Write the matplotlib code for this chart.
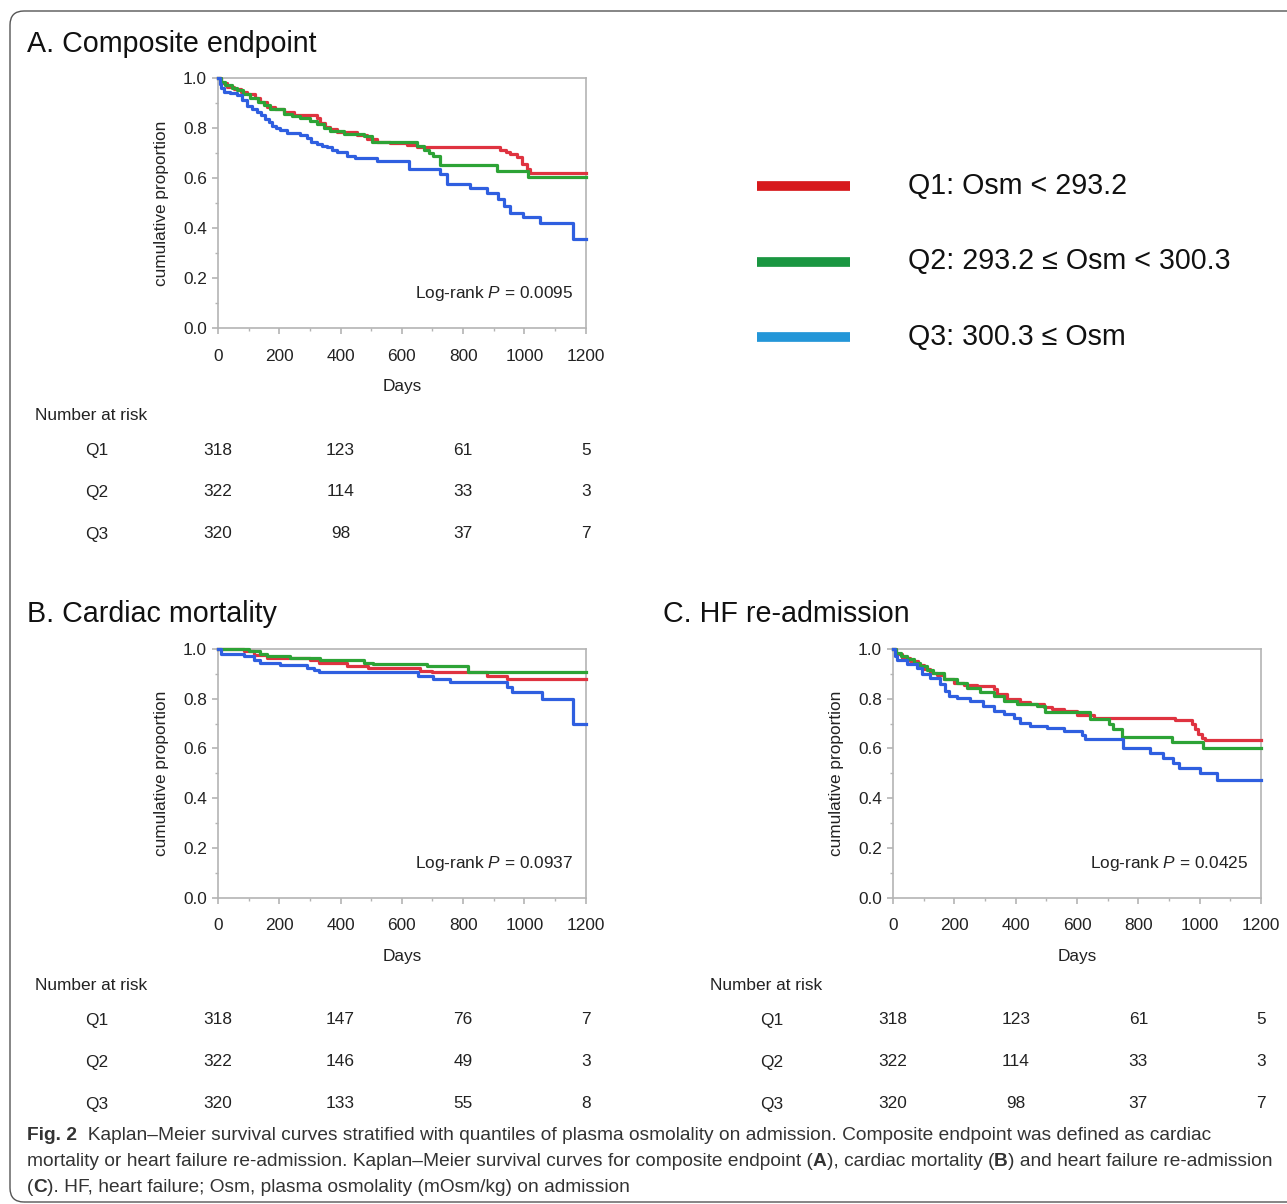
import matplotlib
matplotlib.use('Agg')
import matplotlib.pyplot as plt
from matplotlib.lines import Line2D
from matplotlib.patches import FancyBboxPatch
from matplotlib.transforms import IdentityTransform, blended_transform_factory

plt.rcParams['font.family'] = ['Liberation Sans', 'DejaVu Sans']
plt.rcParams['mathtext.fontset'] = 'custom'
plt.rcParams['mathtext.it'] = 'Liberation Sans:italic'
plt.rcParams['mathtext.rm'] = 'Liberation Sans'

W, H = 1287, 1204

# ---- curve data (days, cumulative proportion) ----
# A. composite endpoint
a_q1_t = [0, 10, 30, 51, 75, 95, 120, 138, 160, 185, 214, 247, 323, 334, 350, 366, 388, 453, 486, 518,
          562, 616, 649, 921, 940, 953, 975, 991, 1008, 1018, 1200]
a_q1_s = [1.0, 0.98, 0.965, 0.955, 0.945, 0.935, 0.92, 0.905, 0.885, 0.875, 0.862, 0.85, 0.84, 0.818, 0.805,
          0.796, 0.783, 0.772, 0.757, 0.745, 0.738, 0.73, 0.724, 0.712, 0.705, 0.697, 0.682, 0.657, 0.636,
          0.621, 0.621]
a_q2_t = [0, 10, 24, 45, 62, 80, 105, 130, 149, 171, 214, 240, 268, 300, 323, 345, 366, 410, 475, 502,
          649, 671, 690, 703, 725, 910, 1013, 1200]
a_q2_s = [1.0, 0.985, 0.97, 0.96, 0.95, 0.935, 0.92, 0.905, 0.89, 0.876, 0.856, 0.848, 0.839, 0.828, 0.816,
          0.80, 0.789, 0.776, 0.766, 0.742, 0.729, 0.713, 0.70, 0.689, 0.651, 0.628, 0.605, 0.605]
a_q3_t = [0, 5, 10, 18, 40, 62, 78, 95, 110, 127, 140, 154, 165, 176, 190, 203, 225, 268, 290, 305, 323,
          340, 355, 372, 388, 421, 448, 518, 622, 725, 747, 823, 877, 915, 932, 953, 997, 1051, 1160, 1200]
a_q3_s = [1.0, 0.975, 0.96, 0.944, 0.94, 0.933, 0.91, 0.886, 0.875, 0.863, 0.85, 0.836, 0.822, 0.809, 0.80,
          0.792, 0.78, 0.77, 0.758, 0.745, 0.736, 0.728, 0.722, 0.71, 0.702, 0.689, 0.678, 0.668, 0.635,
          0.615, 0.574, 0.561, 0.538, 0.517, 0.487, 0.46, 0.444, 0.42, 0.357, 0.357]

# B. cardiac mortality
b_q1_t = [0, 84, 116, 160, 301, 328, 421, 491, 660, 698, 877, 942, 1200]
b_q1_s = [1.0, 0.99, 0.975, 0.962, 0.955, 0.942, 0.933, 0.923, 0.913, 0.906, 0.892, 0.879, 0.879]
b_q2_t = [0, 100, 138, 160, 236, 334, 475, 507, 681, 817, 1200]
b_q2_s = [1.0, 0.99, 0.98, 0.973, 0.965, 0.956, 0.945, 0.938, 0.93, 0.908, 0.908]
b_q3_t = [0, 10, 84, 116, 138, 203, 290, 312, 328, 654, 703, 758, 942, 959, 1057, 1160, 1200]
b_q3_s = [1.0, 0.98, 0.97, 0.957, 0.942, 0.935, 0.925, 0.915, 0.908, 0.892, 0.879, 0.869, 0.849, 0.825,
          0.80, 0.697, 0.697]

# C. HF re-admission
c_q1_t = [0, 10, 30, 56, 80, 100, 120, 143, 165, 200, 230, 274, 328, 339, 371, 415, 447, 491, 518, 556,
          599, 654, 920, 974, 985, 996, 1007, 1018, 1200]
c_q1_s = [1.0, 0.98, 0.965, 0.95, 0.935, 0.92, 0.905, 0.896, 0.879, 0.865, 0.857, 0.85, 0.838, 0.818, 0.80,
          0.787, 0.778, 0.765, 0.758, 0.751, 0.733, 0.724, 0.715, 0.70, 0.677, 0.657, 0.643, 0.634, 0.634]
c_q2_t = [0, 10, 25, 46, 70, 89, 110, 132, 165, 209, 241, 285, 328, 361, 404, 469, 496, 643, 703, 719,
          746, 909, 1012, 1200]
c_q2_s = [1.0, 0.985, 0.97, 0.96, 0.945, 0.93, 0.915, 0.905, 0.879, 0.863, 0.845, 0.825, 0.812, 0.791,
          0.78, 0.771, 0.747, 0.72, 0.697, 0.677, 0.647, 0.626, 0.60, 0.60]
c_q3_t = [0, 5, 13, 46, 78, 94, 122, 154, 170, 181, 209, 252, 295, 328, 361, 393, 415, 447, 502, 556,
          616, 627, 751, 838, 882, 914, 931, 1001, 1055, 1200]
c_q3_s = [1.0, 0.97, 0.955, 0.94, 0.925, 0.899, 0.885, 0.861, 0.832, 0.812, 0.802, 0.79, 0.771, 0.751,
          0.738, 0.724, 0.704, 0.69, 0.681, 0.67, 0.655, 0.637, 0.603, 0.583, 0.563, 0.542, 0.522, 0.502,
          0.472, 0.472]

groups = ['Q1', 'Q2', 'Q3']
risk_days = [0, 400, 800, 1200]
a_risk = [[318, 123, 61, 5], [322, 114, 33, 3], [320, 98, 37, 7]]
b_risk = [[318, 147, 76, 7], [322, 146, 49, 3], [320, 133, 55, 8]]
c_risk = [[318, 123, 61, 5], [322, 114, 33, 3], [320, 98, 37, 7]]

legend_labels = ['Q1: Osm < 293.2', 'Q2: 293.2 \u2264 Osm < 300.3', 'Q3: 300.3 \u2264 Osm']
p_texts = ['0.0095', '0.0937', '0.0425']
titles = ['A. Composite endpoint', 'B. Cardiac mortality', 'C. HF re-admission']

curve_colors = ['#df3340', '#2da336', '#2f5fe0']
legend_colors = ['#d7191c', '#1a9641', '#2396d8']
gray = '#b4b4b4'
txt = '#222222'
fs = 12.4
big = 20.6

fig = plt.figure(figsize=(W / 100, H / 100), dpi=100)


def fx(px):
    return px / W


def fy(py):
    return 1 - py / H


def make_axes(left, top, right, bottom):
    ax = fig.add_axes([fx(left), fy(bottom), fx(right) - fx(left), fy(top) - fy(bottom)])
    ax.set_xlim(0, 1200)
    ax.set_ylim(0, 1.0)
    ax.set_xticks(range(0, 1201, 200))
    ax.set_xticks(range(100, 1200, 200), minor=True)
    ax.set_yticks([0, 0.2, 0.4, 0.6, 0.8, 1.0])
    ax.set_yticks([0.1, 0.3, 0.5, 0.7, 0.9], minor=True)
    ax.set_yticklabels(['0.0', '0.2', '0.4', '0.6', '0.8', '1.0'])
    for s in ax.spines.values():
        s.set_color(gray)
        s.set_linewidth(1.2)
    ax.tick_params(which='major', length=4, width=1.2, color=gray, labelsize=fs, labelcolor=txt)
    ax.tick_params(axis='x', which='major', pad=11)
    ax.tick_params(axis='y', which='major', pad=4)
    ax.tick_params(which='minor', length=2.5, width=1.0, color=gray)
    ax.set_xlabel('Days', fontsize=fs, color=txt, labelpad=11)
    ax.set_ylabel('cumulative proportion', fontsize=fs, color=txt, labelpad=10)
    return ax


panels = [
    (make_axes(218, 78, 585.7, 327.7), [(a_q1_t, a_q1_s), (a_q2_t, a_q2_s), (a_q3_t, a_q3_s)], a_risk,
     35, 97, 415),
    (make_axes(218, 649, 585.7, 897.5), [(b_q1_t, b_q1_s), (b_q2_t, b_q2_s), (b_q3_t, b_q3_s)], b_risk,
     35, 97, 985),
    (make_axes(893, 649, 1261, 897.5), [(c_q1_t, c_q1_s), (c_q2_t, c_q2_s), (c_q3_t, c_q3_s)], c_risk,
     710, 772, 985),
]

for i, (ax, curves, risk, nx, qx, ny) in enumerate(panels):
    for (t, s), col in zip(curves, curve_colors):
        ax.step(t, s, where='post', color=col, lw=2.3, clip_on=False, zorder=3)
    ax.text(1158, 0.138, 'Log-rank $P$ = ' + p_texts[i], ha='right', va='center',
            fontsize=fs, color=txt)
    # number at risk table
    tr = blended_transform_factory(ax.transData, fig.transFigure)
    fig.text(fx(nx), fy(ny), 'Number at risk', ha='left', va='center', fontsize=fs, color=txt)
    for r, g in enumerate(groups):
        yy = fy(ny + 35 + 42 * r)
        fig.text(fx(qx), yy, g, ha='center', va='center', fontsize=fs, color=txt)
        for d, n in zip(risk_days, risk[r]):
            ax.text(d, yy, str(n), transform=tr, ha='center', va='center', fontsize=fs,
                    color=txt)

# panel titles
fig.text(fx(27), fy(52), titles[0], ha='left', va='baseline', fontsize=big, color='#111111')
fig.text(fx(27), fy(622), titles[1], ha='left', va='baseline', fontsize=big, color='#111111')
fig.text(fx(663), fy(622), titles[2], ha='left', va='baseline', fontsize=big, color='#111111')

# legend
for k, (lab, col) in enumerate(zip(legend_labels, legend_colors)):
    yy = 186 + 75.5 * k
    fig.add_artist(Line2D([fx(757), fx(850)], [fy(yy), fy(yy)], color=col, lw=7,
                          solid_capstyle='butt'))
    fig.text(fx(908), fy(yy), lab, ha='left', va='center', fontsize=big, color='#111111')

# caption, mixing bold and regular pieces
cap_font = ['Liberation Sans Narrow', 'Liberation Sans', 'DejaVu Sans']
cap_lines = [
    [('Fig. 2', 'bold'), ('  Kaplan\u2013Meier survival curves stratified with quantiles of plasma osmolality '
                          'on admission. Composite endpoint was defined as cardiac', 'normal')],
    [('mortality or heart failure re-admission. Kaplan\u2013Meier survival curves for composite endpoint (',
      'normal'), ('A', 'bold'), ('), cardiac mortality (', 'normal'), ('B', 'bold'),
     (') and heart failure re-admission', 'normal')],
    [('(', 'normal'), ('C', 'bold'), ('). HF, heart failure; Osm, plasma osmolality (mOsm/kg) on admission',
                                      'normal')],
]
renderer = fig.canvas.get_renderer()
for li, pieces in enumerate(cap_lines):
    x = 27
    y = fy(1140 + 26 * li)
    for s, wt in pieces:
        t = fig.text(fx(x), y, s, ha='left', va='baseline', fontsize=13.8, fontweight=wt,
                     family=cap_font, color='#333333')
        x += t.get_window_extent(renderer).width

# rounded frame around the figure
fig.add_artist(FancyBboxPatch((10, 2), 1320, 1191, boxstyle='round,pad=0,rounding_size=14',
                              transform=IdentityTransform(), fill=False, ec='#555555', lw=1.0))

fig.savefig('out.png', dpi=100)
